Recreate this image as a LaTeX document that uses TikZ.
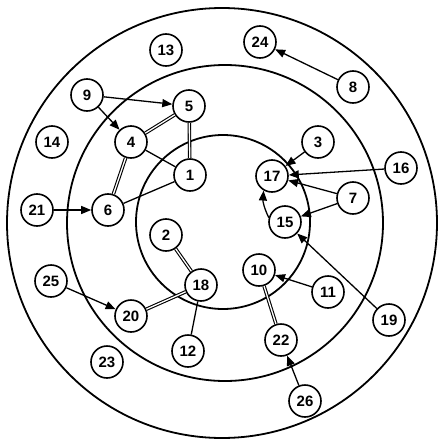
\documentclass[tikz,border=0pt]{standalone}
\usepackage{fontspec}
\setmainfont{Liberation Sans}
\usetikzlibrary{arrows.meta}
\begin{document}
\begin{tikzpicture}[x=1pt,y=-1pt,
  n/.style={circle,draw,line width=1.6pt,minimum size=32pt,inner sep=0pt,font=\fontsize{15}{15}\selectfont\bfseries},
  ring/.style={line width=1.8pt},
  arr/.style={line width=1.3pt,-{Triangle[length=10pt,width=8pt]}},
  dbl/.style={double,double distance=1.3pt,line width=1.1pt},
  ln/.style={line width=1.3pt}]
\useasboundingbox (0,0) rectangle (438,442);
\draw[ring] (222,223) circle[radius=215pt];
\draw[ring] (225,223) circle[radius=158pt];
\draw[ring] (223,222) circle[radius=87pt];

\node[n] (n13) at (166,50) {13};
\node[n] (n9) at (87,95) {9};
\node[n] (n5) at (189,106) {5};
\node[n] (n4) at (131,142) {4};
\node[n] (n14) at (52,142) {14};
\node[n] (n1) at (190,175) {1};
\node[n] (n21) at (37,210) {21};
\node[n] (n6) at (108,210) {6};
\node[n] (n24) at (260,42) {24};
\node[n] (n8) at (353,87) {8};
\node[n] (n3) at (318,142) {3};
\node[n] (n17) at (272,176) {17};
\node[n] (n16) at (401,168) {16};
\node[n] (n7) at (353,198) {7};
\node[n] (n15) at (285,222) {15};
\node[n] (n2) at (166,235) {2};
\node[n] (n18) at (201,285) {18};
\node[n] (n25) at (51,281) {25};
\node[n] (n20) at (131,316) {20};
\node[n] (n12) at (188,351) {12};
\node[n] (n23) at (107,362) {23};
\node[n] (n10) at (259,270) {10};
\node[n] (n11) at (328,292) {11};
\node[n] (n19) at (389,320) {19};
\node[n] (n22) at (281,340) {22};
\node[n] (n26) at (305,401) {26};

\draw[arr] (n9) -- (n5);
\draw[arr] (n9) -- (n4);
\draw[dbl] (n4) -- (n5);
\draw[dbl] (n5) -- (n1);
\draw[ln] (n4) -- (n1);
\draw[dbl] (n4) -- (n6);
\draw[ln] (n6) -- (n1);
\draw[arr] (n21) -- (n6);
\draw[arr] (n8) -- (n24);
\draw[arr] (n3) -- (n17);
\draw[arr] (n16) -- (n17);
\draw[arr] (n7) -- (n17);
\draw[arr] (n7) -- (n15);
\draw[arr] (n15.165) to[bend left=15] (n17.240);
\draw[arr] (n19) -- (n15);
\draw[arr] (n11) -- (n10);
\draw[dbl] (n10) -- (n22);
\draw[arr] (n26) -- (n22);
\draw[dbl] (n2) -- (n18);
\draw[dbl] (n18) -- (n20);
\draw[arr] (n25) -- (n20);
\draw[ln] (n18) -- (n12);
\end{tikzpicture}
\end{document}
